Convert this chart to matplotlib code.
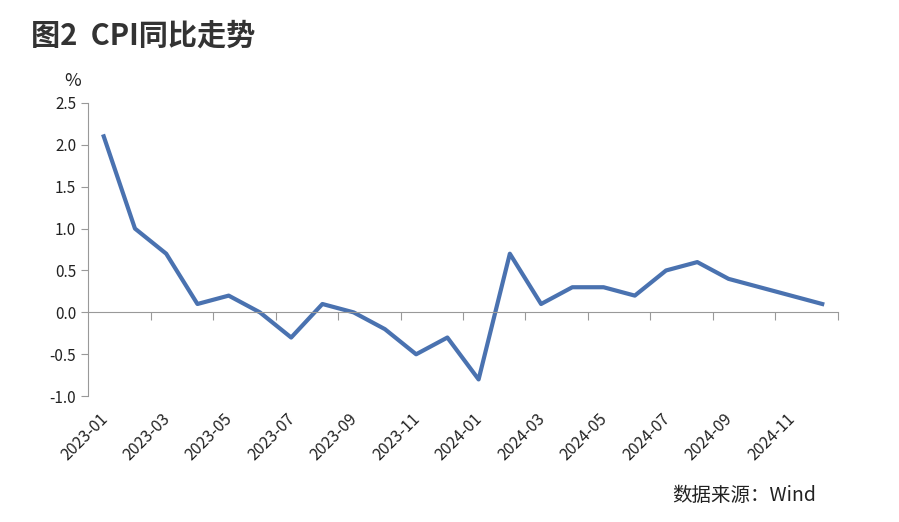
import matplotlib.pyplot as plt
from matplotlib.transforms import offset_copy

plt.rcParams['font.family'] = ['Noto Sans CJK SC', 'DejaVu Sans']

months = ['2023-01', '2023-02', '2023-03', '2023-04', '2023-05', '2023-06',
          '2023-07', '2023-08', '2023-09', '2023-10', '2023-11', '2023-12',
          '2024-01', '2024-02', '2024-03', '2024-04', '2024-05', '2024-06',
          '2024-07', '2024-08', '2024-09', '2024-10', '2024-11', '2024-12']
cpi = [2.1, 1.0, 0.7, 0.1, 0.2, 0.0, -0.3, 0.1, 0.0, -0.2, -0.5, -0.3,
       -0.8, 0.7, 0.1, 0.3, 0.3, 0.2, 0.5, 0.6, 0.4, 0.3, 0.2, 0.1]

fig = plt.figure(figsize=(8.99, 5.22), dpi=100)
ax = fig.add_axes([0.098, 0.241, 0.834, 0.562])
x = list(range(len(months)))
ax.plot(x, cpi, color='#4a72b0', lw=3)

ax.set_xlim(-0.5, 23.5)
ax.set_ylim(-1.0, 2.5)
ax.set_yticks([-1.0, -0.5, 0.0, 0.5, 1.0, 1.5, 2.0, 2.5])
ax.set_yticklabels(['%.1f' % v for v in ax.get_yticks()], fontsize=11, color='#222222')
for s in ['top', 'right']:
    ax.spines[s].set_visible(False)
ax.spines['bottom'].set_position(('data', 0))
for s in ['left', 'bottom']:
    ax.spines[s].set_color('#999999')
ax.tick_params(axis='y', length=5, color='#999999', direction='out')
ax.set_xticks([i + 0.5 for i in range(1, 24, 2)])
ax.set_xticklabels([])
ax.tick_params(axis='x', length=6, color='#999999', direction='out')

tr = offset_copy(ax.transData, fig=fig, x=0, y=-10, units='points')
for i in range(0, 24, 2):
    ax.text(i - 0.15, -1.0, months[i], transform=tr, rotation=45, ha='right',
            va='top', fontsize=11.5, color='#222222', rotation_mode='anchor')

fig.text(0.072, 0.835, '%', fontsize=13, color='#222222')
fig.text(0.035, 0.915, '图2  CPI同比走势', fontsize=21, fontweight='bold', color='#333333')
fig.text(0.908, 0.04, '数据来源：Wind', fontsize=14, color='#222222', ha='right')

fig.savefig('out.png', dpi=100)
